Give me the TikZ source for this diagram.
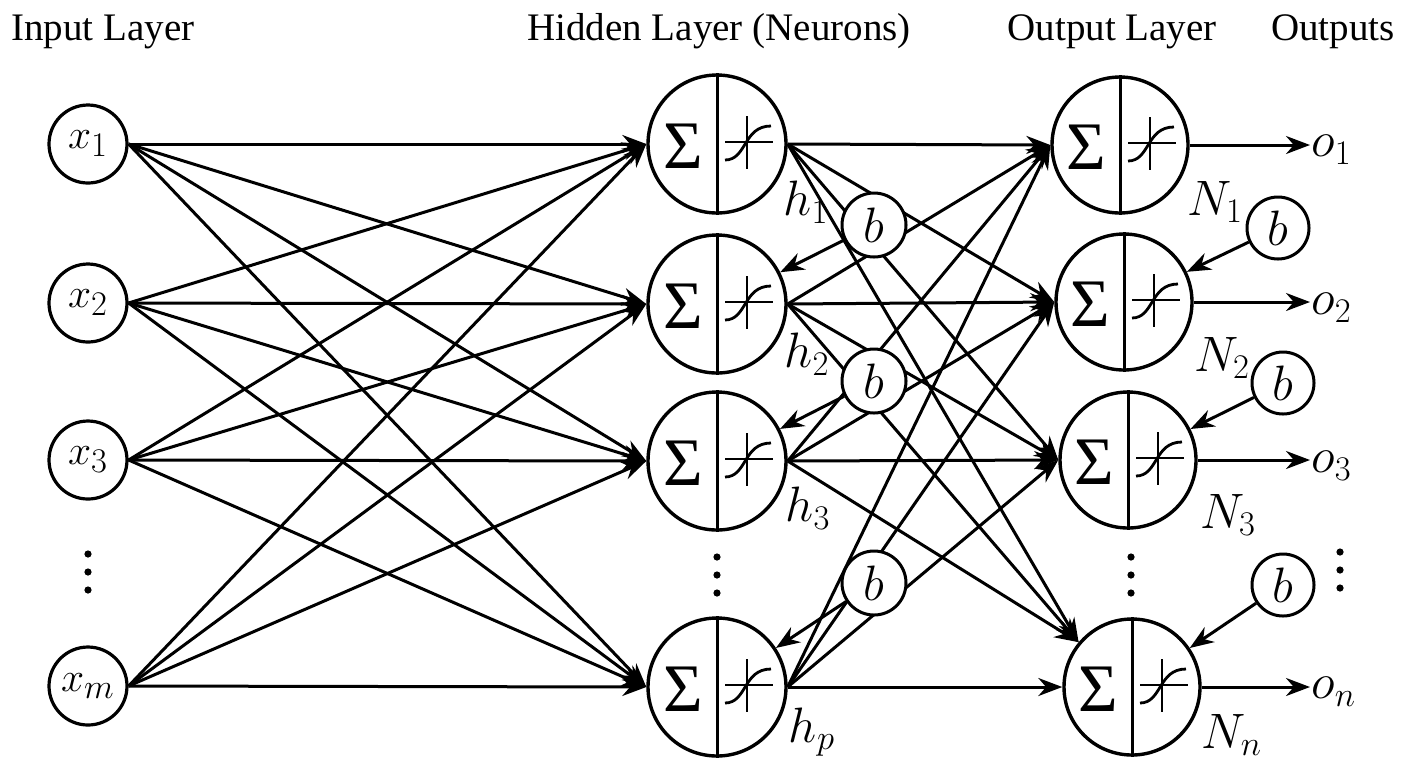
\documentclass[tikz,border=0pt]{standalone}
\usepackage{fontspec}
\setmainfont{Liberation Serif}
\newfontfamily\tms{Liberation Serif}
\DeclareMathSizes{22}{22}{17}{13}
\DeclareMathSizes{23}{23}{17.5}{13}
\usetikzlibrary{arrows.meta,calc}
\newcommand\neuron[4]{% name, x, y, size
  \node[neu, minimum size=#4] (#1) at (#2,#3) {};
  \draw[line width=1.5pt] (#1.north) -- (#1.south);
  \node[font=\tms\fontsize{34}{36}\selectfont, inner sep=0pt] at ($(#1)+(-34,2)$) {Σ};
  \draw[line width=1.4pt] ($(#1)+(8,-2)$) -- ($(#1)+(56,-2)$);
  \draw[line width=1.4pt] ($(#1)+(30,-28)$) -- ($(#1)+(30,25)$);
  \draw[line width=1.4pt] ($(#1)+(8,16)$) .. controls ($(#1)+(30,16)$) and ($(#1)+(26,-18)$) .. ($(#1)+(54,-18)$);
}
\newcommand\dotcol[3]{% name, x, y
  \coordinate (#1) at (#2,#3);
  \fill ($(#1)+(0,-18)$) circle (3.6);
  \fill (#1) circle (3.6);
  \fill ($(#1)+(0,18)$) circle (3.6);
}
\begin{document}
\begin{tikzpicture}[x=0.5pt,y=-0.5pt,
  line width=1.5pt,
  arr/.style={-{Stealth[length=12pt,width=9pt]}},
  inp/.style={circle,draw,line width=1.6pt,minimum size=39pt,inner sep=0pt,fill=white,font=\fontsize{22}{24}\selectfont},
  neu/.style={circle,draw,line width=1.7pt,inner sep=0pt,fill=white},
  bias/.style={circle,draw,line width=1.5pt,inner sep=0pt,fill=white,font=\fontsize{23}{24}\selectfont},
  ttl/.style={font=\tms\fontsize{19.5}{22}\selectfont, inner sep=0pt, anchor=base},
  lbl/.style={font=\fontsize{23}{24}\selectfont, inner sep=0pt},
]
\useasboundingbox (0,0) rectangle (1408,768);
\fill[white] (0,0) rectangle (1408,768);

% titles
\node[ttl, anchor=base west] (tin) at (10,40) {Input Layer};
\node[ttl] (thid) at (719,40) {Hidden Layer (Neurons)};
\node[ttl] (tout) at (1112,40) {Output Layer};
\node[ttl] (touts) at (1333,40) {Outputs};

% input nodes
\node[inp] (x1) at (88,144) {$x_1$};
\node[inp] (x2) at (88,303) {$x_2$};
\node[inp] (x3) at (88,460) {$x_3$};
\node[inp] (xm) at (88,686) {$x_m$};
\dotcol{xd}{88}{572}

% hidden neurons
\neuron{h1}{717}{144}{69pt}
\neuron{h2}{717}{304}{69pt}
\neuron{h3}{717}{461}{69pt}
\neuron{hp}{717}{687}{69pt}
\dotcol{hd}{717}{575}
\node[lbl] (lh1) at (806,202) {$h_1$};
\node[lbl] (lh2) at (807,354) {$h_2$};
\node[lbl] (lh3) at (808,508) {$h_3$};
\node[lbl] (lhp) at (812,732) {$h_p$};

% output neurons
\neuron{N1}{1120}{145}{68pt}
\neuron{N2}{1124}{302}{68pt}
\neuron{N3}{1128}{460}{68pt}
\neuron{Nn}{1132}{687}{68pt}
\dotcol{nd}{1131}{575}
\dotcol{od}{1340}{570}
\node[lbl] (lN1) at (1215,202) {$N_1$};
\node[lbl] (lN2) at (1222,358) {$N_2$};
\node[lbl] (lN3) at (1228,515) {$N_3$};
\node[lbl] (lNn) at (1232,735) {$N_n$};

% outputs
\node[lbl, anchor=west] (o1) at (1310,150) {$o_1$};
\node[lbl, anchor=west] (o2) at (1310,308) {$o_2$};
\node[lbl, anchor=west] (o3) at (1310,466) {$o_3$};
\node[lbl, anchor=west] (on) at (1310,692) {$o_n$};
\draw[arr] (N1.east) -- (N1.east -| o1.west);
\draw[arr] (N2.east) -- (N2.east -| o2.west);
\draw[arr] (N3.east) -- (N3.east -| o3.west);
\draw[arr] (Nn.east) -- (Nn.east -| on.west);

% input -> hidden
\foreach \i in {x1,x2,x3,xm}{
  \foreach \h in {h1,h2,h3,hp}{
    \draw[arr] (\i.east) -- (\h.west);
  }
}
% hidden -> output
\foreach \h in {h1,h2,h3,hp}{
  \foreach \n in {N1,N2,N3}{
    \draw[arr] (\h.east) -- (\n.west);
  }
}
\foreach \h in {h1,h2,h3}{
  \draw[arr] (\h.east) -- (Nn.140);
}
\draw[arr] (hp.east) -- (Nn.west);

% hidden biases
\node[bias, minimum size=32pt] (hb1) at (874,225) {$b$};
\node[bias, minimum size=32pt] (hb2) at (874,381) {$b$};
\node[bias, minimum size=32pt] (hb3) at (874,583) {$b$};
\draw[arr] (hb1) -- (h2);
\draw[arr] (hb2) -- (h3);
\draw[arr] (hb3) -- (hp);

% output biases
\node[bias, minimum size=31pt] (ob1) at (1278,228) {$b$};
\node[bias, minimum size=31pt] (ob2) at (1283,383) {$b$};
\node[bias, minimum size=31pt] (ob3) at (1283,585) {$b$};
\draw[arr] (ob1) -- (N2);
\draw[arr] (ob2) -- (N3);
\draw[arr] (ob3) -- (Nn);
\end{tikzpicture}
\end{document}
